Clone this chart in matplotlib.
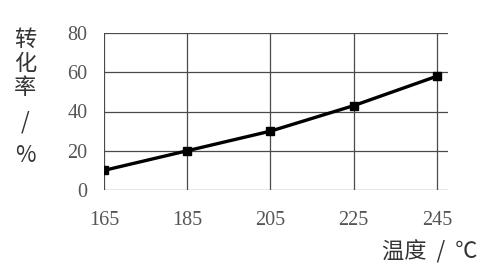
import matplotlib
matplotlib.use("Agg")
import matplotlib.pyplot as plt

# data
temps = [165, 185, 205, 225, 245]
conversion = [10, 20, 30, 43, 58]
y_ticks = [0, 20, 40, 60, 80]

plt.rcParams['font.family'] = ['Liberation Serif', 'DejaVu Serif']
cjk = ['Noto Sans CJK SC', 'DejaVu Sans']

fig = plt.figure(figsize=(4.8, 2.66), dpi=100)
ax = fig.add_axes([104/480, 1-190/266, (448-104)/480, (190-33)/266])

ax.plot(temps, conversion, color='black', lw=2.4, marker='s', markersize=6, zorder=3)

ax.set_xlim(165, 165 + (448-104)/(437-104)*80)
ax.set_ylim(0, 80)
ax.set_xticks(temps)
ax.set_yticks(y_ticks)
ax.grid(True, color='#4a4a4a', lw=0.9)
for s in ax.spines.values():
    s.set_visible(False)
ax.tick_params(length=0, labelsize=14.5, labelcolor='#555555')
ax.tick_params(axis='x', pad=15)
ax.tick_params(axis='y', pad=12)

# stacked y label
for ch, y in [('转', 39), ('化', 64), ('率', 88), ('/', 122), ('%', 156)]:
    fig.text(25/480, 1-y/266, ch, ha='center', va='center', fontsize=16,
             family=cjk, color='#333333')

fig.text(478/480, 1-252/266, '温度  /  ℃', ha='right', va='center', fontsize=16,
         family=cjk, color='#333333')

fig.savefig('out.png', dpi=100)
